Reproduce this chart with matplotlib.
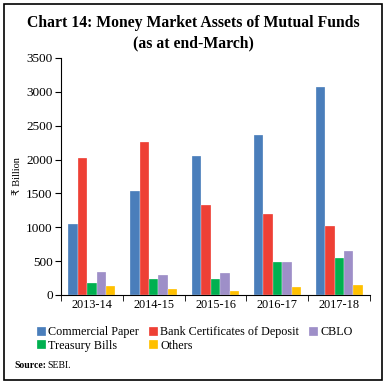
import numpy as np
import matplotlib.pyplot as plt
from matplotlib.patches import Rectangle

years = ['2013-14', '2014-15', '2015-16', '2016-17', '2017-18']
commercial_paper = [1050, 1535, 2055, 2355, 3070]
bank_cds = [2020, 2265, 1335, 1195, 1015]
treasury_bills = [170, 240, 240, 493, 547]
cblo = [335, 295, 330, 493, 655]
others = [133, 84, 64, 113, 153]

series = [
    ('Commercial Paper', commercial_paper, '#4a7ebb'),
    ('Bank Certificates of Deposit', bank_cds, '#ee4035'),
    ('Treasury Bills', treasury_bills, '#00b050'),
    ('CBLO', cblo, '#9e8fc8'),
    ('Others', others, '#ffc000'),
]

plt.rcParams['font.family'] = ['Liberation Serif', 'DejaVu Sans']

fig = plt.figure(figsize=(3.86, 3.84), dpi=100)
ax = fig.add_axes([0.158, 0.232, 0.801, 0.617])

x = np.arange(len(years))
w = 0.152
handles = {}
for i, (name, vals, col) in enumerate(series):
    b = ax.bar(x + (i - 2) * w, vals, width=w, color=col,
               edgecolor='white', linewidth=0.2, label=name)
    handles[name] = b

ax.set_xlim(-0.5, len(years) - 0.5)
ax.set_ylim(0, 3500)
ax.set_yticks(range(0, 3501, 500))
ax.set_xticks(x)
ax.set_xticklabels(years)
ax.set_xticks(np.arange(-0.5, len(years), 1), minor=True)
ax.tick_params(axis='x', which='major', length=0, labelsize=8.8, pad=3)
ax.tick_params(axis='x', which='minor', length=4, direction='out')
ax.tick_params(axis='y', length=4, direction='out', labelsize=9.5, pad=2)
for s in ['top', 'right']:
    ax.spines[s].set_visible(False)
ax.set_ylabel('₹ Billion', fontsize=7.5, labelpad=3)

order = ['Commercial Paper', 'Treasury Bills', 'Bank Certificates of Deposit',
         'Others', 'CBLO']
fig.legend([handles[n] for n in order], order, ncol=3, loc='upper left',
           bbox_to_anchor=(0.08, 0.166), frameon=False, fontsize=8.7,
           handlelength=0.75, handleheight=0.75, handletextpad=0.2,
           columnspacing=0.8, labelspacing=0.1, borderpad=0)

fig.text(0.5, 0.94, 'Chart 14: Money Market Assets of Mutual Funds',
         ha='center', va='center', fontsize=11.3, fontweight='bold')
fig.text(0.5, 0.888, '(as at end-March)', ha='center', va='center',
         fontsize=11.3, fontweight='bold')
src = fig.text(0.037, 0.047, 'Source:', fontsize=7, va='center', fontweight='bold')
fig.text(0.123, 0.047, 'SEBI.', fontsize=7, va='center')

fig.patches.append(Rectangle((0.011, 0.011), 0.978, 0.978, transform=fig.transFigure,
                             fill=False, edgecolor='black', linewidth=1.2))

fig.savefig('out.png', dpi=100)
